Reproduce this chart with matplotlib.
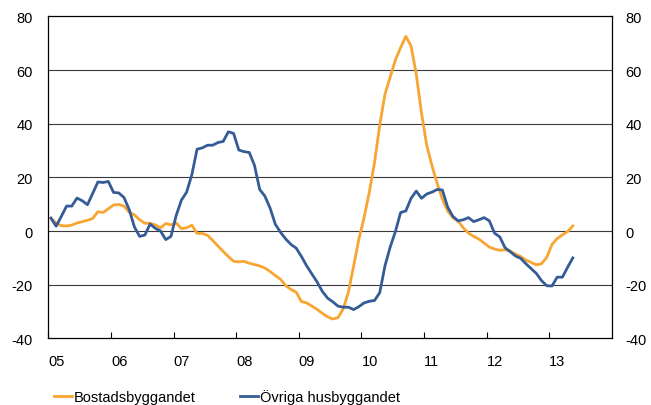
import numpy as np
import matplotlib
matplotlib.use("Agg")
import matplotlib.pyplot as plt

plt.rcParams['font.family'] = ['Liberation Sans', 'DejaVu Sans']
plt.rcParams['axes.unicode_minus'] = False

# monthly series, Jan 2005 - May 2013
bostad = [4.8, 2.9, 2.0, 1.9, 2.2, 3.0, 3.5, 4.0, 4.7, 7.2,
          6.9, 8.3, 9.7, 9.9, 9.3, 7.0, 6.0, 4.2, 2.9, 2.9,
          2.3, 1.2, 2.8, 2.3, 3.0, 0.9, 1.2, 2.2, -0.9, -0.9,
          -1.6, -3.5, -5.6, -7.6, -9.5, -11.3, -11.5, -11.3, -12.0, -12.5,
          -13.0, -13.8, -15.1, -16.6, -18.0, -20.4, -21.8, -22.8, -26.3, -26.8,
          -28.0, -29.2, -30.7, -32.0, -32.8, -32.3, -29.0, -22.8, -13.0, -3.0,
          5.0, 14.5, 25.5, 39.5, 51.0, 57.4, 63.8, 68.4, 72.6, 69.0,
          58.5, 44.0, 32.0, 24.4, 17.8, 11.8, 7.5, 5.0, 3.7, 1.2,
          -0.8, -2.0, -3.0, -4.5, -6.0, -6.7, -7.2, -7.0, -7.5, -8.6,
          -9.5, -10.8, -11.7, -12.6, -12.2, -9.8, -5.0, -2.8, -1.4, -0.2,
          1.9]
ovriga = [4.8, 1.8, 5.5, 9.3, 9.3, 12.3, 11.3, 9.8, 14.0, 18.3,
          18.1, 18.5, 14.4, 14.2, 12.5, 8.0, 1.5, -2.0, -1.5, 2.6,
          1.0, 0.0, -3.2, -2.0, 5.8, 11.5, 14.5, 21.0, 30.5, 31.0,
          32.0, 32.0, 33.0, 33.4, 37.0, 36.4, 30.2, 29.6, 29.3, 24.5,
          15.5, 13.0, 8.5, 2.5, -0.5, -3.0, -5.0, -6.4, -9.5, -13.0,
          -16.0, -19.0, -22.5, -25.0, -26.4, -28.0, -28.4, -28.4, -29.3, -28.2,
          -26.8, -26.2, -25.9, -23.0, -13.0, -6.0, -0.2, 6.9, 7.5, 12.2,
          14.9, 12.2, 13.8, 14.5, 15.5, 15.3, 9.0, 5.5, 3.8, 4.2,
          5.0, 3.5, 4.2, 5.0, 3.8, -0.8, -2.2, -6.2, -7.7, -9.3,
          -10.2, -12.2, -14.0, -15.8, -18.5, -20.4, -20.5, -17.2, -17.2, -13.5,
          -10.0]
years = [2005, 2006, 2007, 2008, 2009, 2010, 2011, 2012, 2013]
year_labels = ['05', '06', '07', '08', '09', '10', '11', '12', '13']
yticks = [-40, -20, 0, 20, 40, 60, 80]

# points sit mid-month
t = 2005 + (np.arange(len(bostad)) + 0.5) / 12.0

fig = plt.figure(figsize=(6.51, 4.06), dpi=100)
ax = fig.add_axes([0.0742, 0.1643, 0.8659, 0.7926])

for y in yticks[1:-1]:
    ax.axhline(y, color='#3a3a3a', lw=0.8, zorder=1)

l1, = ax.plot(t, bostad, color='#F8A532', lw=2.0, label='Bostadsbyggandet', zorder=3)
l2, = ax.plot(t, ovriga, color='#355C96', lw=2.0, label='Övriga husbyggandet', zorder=3)

ax.set_xlim(2005, 2014)
ax.set_ylim(-40, 80)
ax.set_xticks(years)
ax.set_xticklabels(year_labels, ha='left')
ax.set_yticks(yticks)
ax.tick_params(axis='x', direction='in', length=4.3, width=0.8, pad=11, labelsize=10.5, colors='black')
ax.tick_params(axis='y', length=0, pad=11, labelsize=10.5)
for s in ax.spines.values():
    s.set_color('black')
    s.set_linewidth(0.9)

# same scale repeated on the right
ax2 = ax.twinx()
ax2.set_ylim(-40, 80)
ax2.set_yticks(yticks)
ax2.tick_params(axis='y', length=0, pad=9.5, labelsize=10.5)
for s in ax2.spines.values():
    s.set_visible(False)

fig.legend(handles=[l1, l2], loc='center left', bbox_to_anchor=(54 / 651, 1 - 398 / 406),
           ncol=2, frameon=False, fontsize=10.5, handlelength=1.25, handletextpad=0.12,
           columnspacing=3.0, borderpad=0, borderaxespad=0)

fig.savefig('out.png', dpi=100)
